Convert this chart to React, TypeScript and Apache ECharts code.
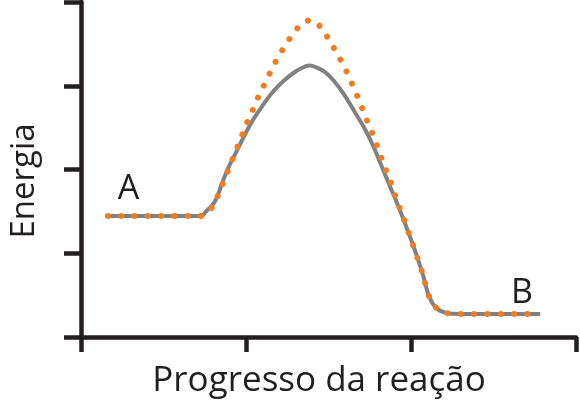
import React, { useEffect, useRef } from "react";
import * as echarts from "echarts";

const xTicks = [0, 100, 200, 300];
const yTicks = [0, 100, 200, 300, 400];

const catalyzedX = [16.3, 72.6, 76.0, 81.1, 85.1, 89.1, 94.2, 99.2, 104.2, 110.3, 116.3, 123.4, 130.5, 135.5, 138.5, 141.6, 147.6, 153.7, 159.7, 165.8, 171.8, 176.8, 181.9, 186.9, 192.0, 200.8, 206.9, 211.1, 215.4, 221.4, 229.3, 278.3];
const catalyzedY = [144.5, 144.5, 150.4, 161.6, 181.5, 201.4, 221.3, 241.2, 259.1, 277.0, 292.9, 306.9, 317.6, 322.7, 324.2, 322.7, 316.8, 304.8, 288.9, 269.0, 249.2, 229.3, 205.4, 181.5, 157.6, 112.2, 76.4, 47.8, 34.6, 28.7, 27.5, 27.5];

const uncatalyzedX = [16.3, 72.6, 76.2, 80.0, 83.5, 86.5, 89.5, 92.4, 95.4, 98.4, 101.5, 104.8, 107.9, 111.5, 115.1, 118.8, 122.8, 127.6, 132.5, 139.1, 145.8, 150.0, 154.3, 158.1, 161.7, 165.0, 168.2, 171.2, 174.2, 177.3, 180.1, 182.9, 185.7, 188.6, 191.2, 194.0, 200.8, 206.9, 211.1, 215.4, 221.4, 229.3, 273.4];
const uncatalyzedY = [144.5, 144.5, 148.1, 156.4, 171.6, 186.3, 200.6, 215.3, 230.1, 245.1, 259.9, 274.3, 288.9, 302.9, 317.6, 331.9, 345.1, 359.4, 371.3, 378.5, 369.0, 355.8, 341.5, 328.0, 313.7, 298.9, 284.2, 269.0, 254.3, 239.6, 224.5, 209.3, 194.6, 179.5, 164.8, 149.6, 112.2, 76.4, 47.8, 34.6, 28.7, 27.5, 27.5];

const yName = "Energia";
const xName = "Progresso da reação";
const startLabel = "A";
const endLabel = "B";

const FONT = "'Open Sans', 'Noto Sans', sans-serif";
const INK = "#231f20";

export default function App() {
  const ref = useRef<HTMLDivElement>(null);
  useEffect(() => {
    if (!ref.current) return;
    const chart = echarts.init(ref.current, undefined, { renderer: "svg" });
    const pairs = (xs: number[], ys: number[]) => xs.map((x, i) => [x, ys[i]]);
    chart.setOption({
      animation: false,
      grid: { left: 81, right: 4, top: 2, bottom: 66 },
      xAxis: {
        type: "value",
        min: xTicks[0],
        max: xTicks[xTicks.length - 1],
        interval: xTicks[1] - xTicks[0],
        axisLine: { show: true, lineStyle: { color: INK, width: 4.5 } },
        axisTick: { show: true, length: 15, lineStyle: { color: INK, width: 4.5 } },
        axisLabel: { show: false },
        splitLine: { show: false },
      },
      yAxis: {
        type: "value",
        min: yTicks[0],
        max: yTicks[yTicks.length - 1],
        interval: yTicks[1] - yTicks[0],
        axisLine: { show: true, lineStyle: { color: INK, width: 4.5 } },
        axisTick: { show: true, length: 17, lineStyle: { color: INK, width: 4.5 } },
        axisLabel: { show: false },
        splitLine: { show: false },
      },
      series: [
        {
          type: "line",
          data: pairs(catalyzedX, catalyzedY),
          showSymbol: false,
          smooth: 0.4,
          lineStyle: { color: "#818181", width: 4 },
        },
        {
          type: "line",
          data: pairs(uncatalyzedX, uncatalyzedY),
          showSymbol: false,
          smooth: 0.3,
          lineStyle: { color: "#f47c20", width: 6, type: [0.01, 13.3], cap: "round" },
        },
      ],
      graphic: [
        {
          type: "text",
          x: 21,
          y: 181,
          rotation: Math.PI / 2,
          style: { text: yName, fontSize: 33, fontFamily: FONT, fill: INK, align: "center", verticalAlign: "middle" },
        },
        {
          type: "text",
          x: 319,
          y: 377,
          style: { text: xName, fontSize: 35, fontFamily: FONT, fill: INK, align: "center", verticalAlign: "middle" },
        },
        {
          type: "text",
          x: 128.5,
          y: 186,
          style: { text: startLabel, fontSize: 34, fontFamily: FONT, fill: INK, align: "center", verticalAlign: "middle" },
        },
        {
          type: "text",
          x: 522,
          y: 290,
          style: { text: endLabel, fontSize: 34, fontFamily: FONT, fill: INK, align: "center", verticalAlign: "middle" },
        },
      ],
    });
    return () => chart.dispose();
  }, []);
  return <div ref={ref} style={{ position: "fixed", left: 0, top: 0, width: 580, height: 403 }} />;
}
